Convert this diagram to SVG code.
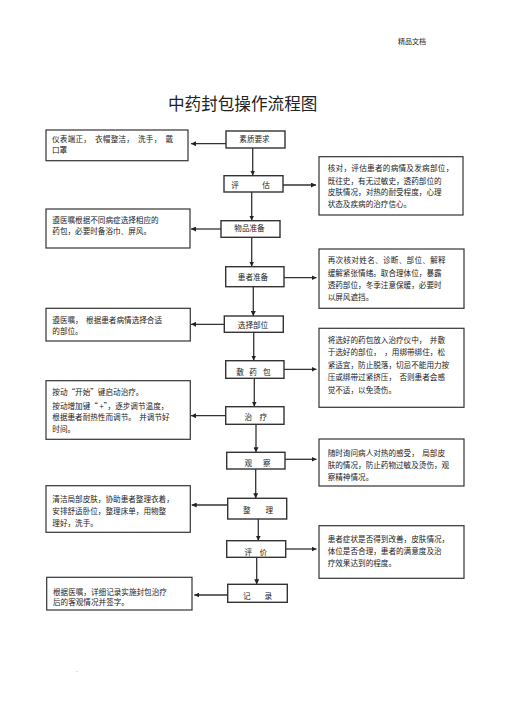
<svg xmlns="http://www.w3.org/2000/svg" width="505" height="714" viewBox="0 0 505 714" xml:space="preserve">
<style>
text{font-family:"Noto Sans CJK SC","Liberation Serif",serif;fill:#222;white-space:pre}
.t{font-size:7.6px}
.n{font-size:7.6px}
.node rect{fill:#fff;stroke:#333;stroke-width:1.4}
.note rect{fill:#fff;stroke:#333;stroke-width:1.2}
#connectors line{stroke:#333;stroke-width:1.3;marker-end:url(#ah)}
</style>
<defs>
<marker id="ah" viewBox="0 0 10 10" refX="10" refY="5" markerWidth="5" markerHeight="5" markerUnits="userSpaceOnUse" orient="auto">
<path d="M0,0 L10,5 L0,10 z" fill="#222"/>
</marker>
</defs>
<rect width="505" height="714" fill="#fff"/>
<text x="398" y="44" style="font-size:7px">精品文档</text>
<text x="168" y="110" style="font-size:16.6px">中药封包操作流程图</text>

<g id="connectors">
<line x1="226" y1="143.7" x2="191" y2="143.7"/>
<line x1="252.7" y1="148" x2="252.7" y2="175.5"/>
<line x1="283" y1="185" x2="316" y2="185"/>
<line x1="251.7" y1="192" x2="251.7" y2="220.5"/>
<line x1="221" y1="229" x2="191" y2="229"/>
<line x1="251.7" y1="237.3" x2="251.7" y2="266.5"/>
<line x1="284" y1="277.7" x2="316.5" y2="277.7"/>
<line x1="253.3" y1="286.7" x2="253.3" y2="316"/>
<line x1="224.3" y1="324.3" x2="191" y2="324.3"/>
<line x1="253.7" y1="332.3" x2="253.7" y2="360.5"/>
<line x1="284" y1="369.3" x2="316.5" y2="369.3"/>
<line x1="254.3" y1="378.3" x2="254.3" y2="406.5"/>
<line x1="225.7" y1="415.7" x2="191" y2="415.7"/>
<line x1="256" y1="424.3" x2="256" y2="452.3"/>
<line x1="285" y1="459.3" x2="316.5" y2="459.3"/>
<line x1="255.7" y1="469" x2="255.7" y2="498.3"/>
<line x1="227.7" y1="505" x2="191.7" y2="505"/>
<line x1="258.3" y1="519" x2="258.3" y2="540.7"/>
<line x1="285.7" y1="549" x2="316.5" y2="549"/>
<line x1="256.7" y1="557.3" x2="256.7" y2="584.3"/>
<line x1="227.7" y1="595" x2="194.3" y2="595"/>
</g>

<g id="n-suzhi" class="node"><rect x="226" y="131" width="59" height="17"/><text class="n" x="254.5" y="142.2" text-anchor="middle">素质要求</text></g>
<g id="n-pinggu" class="node"><rect x="224" y="175.7" width="59" height="16.3"/><text class="n" x="231.2 262.2" y="187.8">评估</text></g>
<g id="n-wupin" class="node"><rect x="221" y="220.7" width="59" height="16.6"/><text class="n" x="249.5" y="231.2" text-anchor="middle">物品准备</text></g>
<g id="n-huanzhe" class="node"><rect x="225.7" y="266.7" width="58.3" height="20"/><text class="n" x="253" y="279.5" text-anchor="middle">患者准备</text></g>
<g id="n-xuanze" class="node"><rect x="224.3" y="316" width="59" height="16.3"/><text class="n" x="253" y="327.8" text-anchor="middle">选择部位</text></g>
<g id="n-fuyao" class="node"><rect x="225.7" y="360.7" width="58.3" height="17.6"/><text class="n" x="236.2 249.2 262.9" y="374.5">敷药包</text></g>
<g id="n-zhiliao" class="node"><rect x="225.7" y="406.7" width="58.3" height="17.6"/><text class="n" x="244.5 259.5" y="419.5">治疗</text></g>
<g id="n-guancha" class="node"><rect x="226.7" y="452.3" width="58.3" height="16.7"/><text class="n" x="244.5 262.9" y="465.5">观察</text></g>
<g id="n-zhengli" class="node"><rect x="227.7" y="498.3" width="59" height="20.7"/><text class="n" x="242.9 265.5" y="512.8">整理</text></g>
<g id="n-pingjia" class="node"><rect x="226.7" y="540.7" width="59" height="16.6"/><text class="n" x="244.5 259.5" y="554.5">评价</text></g>
<g id="n-jilu" class="node"><rect x="227.7" y="584.3" width="59.6" height="18"/><text class="n" x="242.9 264.5" y="598.5">记录</text></g>

<g id="note-l1" class="note"><rect x="46" y="130" width="142" height="30.7"/>
<text class="t" x="52" y="142.4" textLength="121" lengthAdjust="spacing">仪表端正，  衣帽整洁，  洗手，  戴</text>
<text class="t" x="52" y="152.6">口罩</text></g>

<g id="note-r1" class="note"><rect x="319" y="156.7" width="144" height="58.3"/>
<text class="t" x="327.7" y="171.1" textLength="125.6" lengthAdjust="spacing">核对，评估患者的病情及发病部位，</text>
<text class="t" x="327.7" y="183.5">既往史，有无过敏史，透药部位的</text>
<text class="t" x="327.7" y="195.1">皮肤情况，对热的耐受程度，心理</text>
<text class="t" x="327.7" y="206.8">状态及疾病的治疗信心。</text></g>

<g id="note-l2" class="note"><rect x="46" y="209" width="144" height="39"/>
<text class="t" x="52.3" y="222.8">遵医嘱根据不同病症选择相应的</text>
<text class="t" x="52.3" y="233.8">药包，必要时备浴巾、屏风。</text></g>

<g id="note-r2" class="note"><rect x="319" y="249" width="145" height="59.3"/>
<text class="t" x="327.7" y="262.8" textLength="118" lengthAdjust="spacing">再次核对姓名、诊断、部位、解释</text>
<text class="t" x="327.7" y="276.1">缓解紧张情绪。取合理体位，暴露</text>
<text class="t" x="327.7" y="287.8">透药部位，冬季注意保暖，必要时</text>
<text class="t" x="327.7" y="300.1">以屏风遮挡。</text></g>

<g id="note-l3" class="note"><rect x="46" y="308.3" width="144.3" height="32.7"/>
<text class="t" x="52.3" y="322.8">遵医嘱，  根据患者病情选择合适</text>
<text class="t" x="52.3" y="333.5">的部位。</text></g>

<g id="note-r3" class="note"><rect x="319" y="328.3" width="145" height="79"/>
<text class="t" x="327.7" y="342.8">将选好的药包放入治疗仪中，  并敷</text>
<text class="t" x="327.7" y="355.1">于选好的部位，  ，用绑带绑住，松</text>
<text class="t" x="327.7" y="367.8">紧适宜，防止脱落，切忌不能用力按</text>
<text class="t" x="327.7" y="380.1">压或绑带过紧挤压，  否则患者会感</text>
<text class="t" x="327.7" y="392.8">觉不适，以免烫伤。</text></g>

<g id="note-l4" class="note"><rect x="46" y="380.7" width="144.3" height="58.6"/>
<text class="t" x="52.3" y="394.5">按动“开始”键启动治疗。</text>
<text class="t" x="52.3" y="408.5">按动增加键“ +”，逐步调节温度，</text>
<text class="t" x="52.3" y="420.1">根据患者耐热性而调节。  并调节好</text>
<text class="t" x="52.3" y="432.1">时间。</text></g>

<g id="note-r4" class="note"><rect x="319" y="439" width="145" height="47"/>
<text class="t" x="327.7" y="456.1">随时询问病人对热的感受，  局部皮</text>
<text class="t" x="327.7" y="467.8">肤的情况，防止药物过敏及烫伤，观</text>
<text class="t" x="327.7" y="479.5">察精神情况。</text></g>

<g id="note-l5" class="note"><rect x="46" y="485.7" width="144.3" height="46.6"/>
<text class="t" x="52.3" y="502.1">清洁局部皮肤，协助患者整理衣着，</text>
<text class="t" x="52.3" y="513.8">安排舒适卧位，整理床单，用物整</text>
<text class="t" x="52.3" y="525.5">理好，洗手。</text></g>

<g id="note-r5" class="note"><rect x="319" y="525.7" width="145" height="52.6"/>
<text class="t" x="327.7" y="541.8">患者症状是否得到改善，皮肤情况，</text>
<text class="t" x="327.7" y="553.8">体位是否合理，患者的满意度及治</text>
<text class="t" x="327.7" y="565.5">疗效果达到的程度。</text></g>

<g id="note-l6" class="note"><rect x="46.7" y="577.3" width="145.3" height="32.7"/>
<text class="t" x="53" y="594.5">根据医嘱，详细记录实施封包治疗</text>
<text class="t" x="53" y="605.1">后的客观情况并签字。</text></g>

<text x="76" y="672" style="font-size:5px;fill:#888">.</text>
</svg>
